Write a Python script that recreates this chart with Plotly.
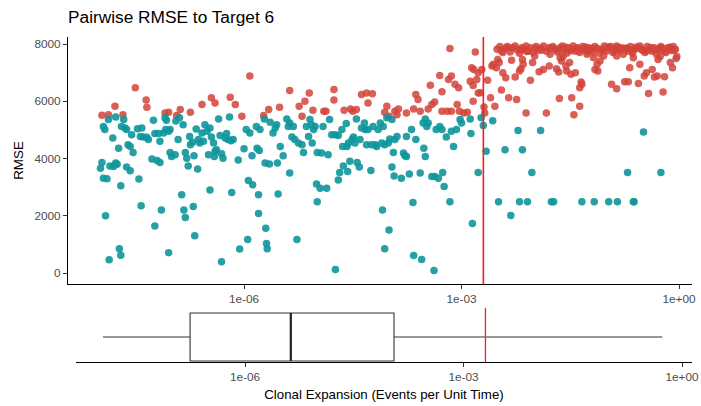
import numpy as np
import plotly.graph_objects as go

# Clonal expansion rates (log10 events per unit time) and pairwise RMSE, low-RMSE group
teal_log_rate = [
    -7.96, -7.98, -7.94, -7.89, -7.91, -7.86, -7.72, -7.70, -7.70, -7.73,
    -7.77, -7.80, -7.85, -7.75, -7.81, -7.94, -7.92, -7.87, -7.77, -7.66,
    -7.64, -7.62, -7.69, -7.60, -7.57, -7.55, -7.53, -7.62, -7.57, -7.45,
    -7.42, -7.47, -7.41, -7.43, -7.39, -7.34, -7.32, -7.25, -7.23, -7.27,
    -7.20, -7.16, -7.14, -7.23, -7.18, -7.16, -7.11, -7.08, -7.07, -7.04,
    -7.02, -7.09, -7.04, -7.02, -7.00, -6.95, -6.94, -6.91, -6.89, -6.84,
    -6.83, -6.81, -6.86, -6.81, -6.79, -6.77, -6.75, -6.74, -6.71, -6.70,
    -6.69, -6.68, -6.66, -6.64, -6.63, -6.61, -6.58, -6.56, -6.54, -6.51,
    -6.49, -6.47, -6.47, -6.45, -6.42, -6.41, -6.40, -6.35, -6.38, -6.33,
    -6.31, -6.31, -6.29, -6.26, -6.24, -6.22, -6.20, -6.18, -6.17, -6.15,
    -6.08, -6.06, -6.00, -5.97, -5.95, -5.94, -5.92, -5.89, -5.88, -5.83,
    -5.82, -5.80, -5.80, -5.79, -5.78, -5.72, -5.71, -5.70, -5.69, -5.68,
    -5.65, -5.64, -5.60, -5.57, -5.55, -5.54, -5.53, -5.50,
    -5.46, -5.41, -5.39, -5.37, -5.34, -5.37, -5.32, -5.30, -5.27, -5.25,
    -5.20, -5.18, -5.14, -5.11, -5.09, -5.07, -5.04, -5.06, -5.02, -5.00,
    -4.99, -4.99, -4.95, -4.93, -4.91, -4.86, -4.84, -4.82, -4.79, -4.74,
    -4.74, -4.70, -4.70, -4.68, -4.65, -4.64, -4.63, -4.59, -4.58, -4.57,
    -4.56, -4.54, -4.51, -4.49, -4.47, -4.45, -4.44, -4.41, -4.40, -4.38,
    -4.34, -4.33, -4.31, -4.29, -4.25, -4.24, -4.22, -4.19, -4.17, -4.15,
    -4.12, -4.10, -4.09, -4.08, -4.06, -4.06, -4.03, -4.01, -4.00, -3.99,
    -3.96, -3.96, -3.94, -3.93, -3.92, -3.89, -3.83, -3.80, -3.78, -3.76,
    -3.76, -3.72, -3.69, -3.67, -3.66, -3.63, -3.57, -3.55, -3.53, -3.50,
    -3.52, -3.50, -3.48, -3.46, -3.41, -3.38, -3.37, -3.35, -3.32, -3.30,
    -3.27, -3.26, -3.24, -3.21, -3.16, -3.14, -3.11, -3.07, -3.02, -3.00,
    -2.88, -2.87, -2.85, -2.77,
    -2.73, -2.70, -2.66, -2.57, -2.49, -2.40, -2.32, -2.22, -2.20, -2.16,
    -2.09, -2.03, -1.91, -1.76, -1.73, -1.34, -1.17, -0.97, -0.85, -0.71,
    -0.63, -0.62, -0.49, -0.25,
]
teal_rmse = [
    3860, 3660, 3310, 3290, 2000, 460, 850, 620, 3050, 4360,
    3840, 3720, 3740, 3800, 4720, 5120, 5010, 5360, 5450, 5360,
    5070, 5010, 5120, 4480, 4420, 4830, 4210, 3700, 3570, 3280,
    2350, 5040, 5070, 4770, 4750, 4740, 4660, 5340, 4870, 3980,
    3930, 3860, 2200, 1640, 4870, 4600, 4890, 5010, 5340, 4950,
    5010, 5420, 710, 4210, 4070, 4130, 5310, 4660, 5420, 5180,
    2200, 1940, 2730, 4210, 4010, 3740, 4770, 4480, 4570, 2320,
    4100, 1300, 5030, 3630, 4660, 4540, 4890, 4600, 5180, 4950,
    4130, 5070, 2900, 4750, 4540, 4070, 4250, 5380, 4310, 4800,
    4170, 390, 4010, 4720, 4870, 4660, 5450, 4620, 2810, 4660,
    3950, 840, 4340, 5010, 1170, 3230, 4890, 4100, 3080, 5120,
    4360, 2730, 2080, 4280, 5010, 5380, 3840, 1560, 1030, 850,
    3810, 5270, 4890, 5070, 5180, 3840, 2760, 4420,
    4100, 5380, 5120, 5240, 4750, 3490, 5120, 4660, 1170, 4540,
    4480, 4210, 5120, 4770, 5360, 5180, 5010, 4540, 5120, 3110,
    2490, 4210, 2960, 4190, 5120, 2960, 4130, 5360, 4830, 4830,
    120, 4800, 3250, 3510, 5010, 4420, 3740, 5220, 4420, 3550,
    4540, 3900, 4660, 4750, 4540, 5380, 3860, 3700, 4660, 5070,
    5240, 5010, 4480, 5010, 3580, 4480, 5120, 4480, 4420, 5010,
    5240, 4540, 2200, 5120, 4480, 850, 5420, 4540, 1500, 4680,
    5360, 3700, 4210, 3390, 4660, 4770, 3310, 4190, 4100, 4070,
    4770, 3460, 5010, 2460, 610, 4660, 3490, 470, 5240, 5380,
    4360, 4070, 5120, 5240, 3370, 90, 3370, 5010, 3310, 5120,
    5010, 3510, 3020, 4750, 2490, 4950, 4420, 5010, 5360, 5240,
    5380, 4870, 1730, 3510,
    5420, 5150, 4250, 5320, 2490, 4310, 2010, 4980, 2490, 4310,
    2490, 3510, 4980, 2490, 2490, 2490, 2490, 2490, 2490, 3510,
    2490, 2490, 4930, 3510,
]

# High-RMSE group
red_log_rate = [
    -7.96, -7.87, -7.78, -7.67, -7.50, -7.35, -7.34, -7.09, -7.04, -6.93,
    -6.88, -6.74, -6.58, -6.45, -6.40, -6.19, -6.12, -6.03, -5.92, -5.73,
    -5.66, -5.51,
    -5.37, -5.24, -5.20, -5.16, -5.10, -5.05, -4.90, -4.87, -4.76, -4.76,
    -4.62, -4.53, -4.50, -4.45, -4.38, -4.31, -4.29, -4.23, -4.06, -4.03,
    -4.00, -3.92, -3.87, -3.89, -3.76, -3.66, -3.63, -3.60, -3.57, -3.46,
    -3.43, -3.41, -3.37, -3.27, -3.27, -3.30, -3.20, -3.18, -3.14, -3.14,
    -3.09, -3.06, -3.04, -3.03, -2.97, -2.92, -2.88, -2.84, -2.84, -2.79,
    -2.86, -2.83, -2.81, -3.16, -2.77, -2.77,
    -2.72, -2.74, -2.69, -2.68, -2.64, -2.60, -2.58, -2.56, -2.54, -2.52,
    -2.50, -2.48, -2.45, -2.43, -2.39, -2.35, -2.31, -2.26, -2.24, -2.20,
    -2.18, -2.15, -2.16, -2.11, -2.05, -2.02, -1.93, -1.87, -1.83, -1.79,
    -1.69, -1.66, -1.65, -1.62, -1.56, -1.55, -1.51, -1.49, -1.48, -1.45,
    -1.43, -1.37, -1.37, -1.35, -1.34, -1.16, -1.13, -1.12, -1.09, -0.93,
    -0.86, -0.75, -0.70, -0.68, -0.56, -0.54, -0.48, -0.45, -0.42, -0.37,
    -0.34, -0.30, -0.29, -0.22, -0.20, -0.09, -0.04,
    -2.51, -2.47, -2.43, -2.40, -2.37, -2.33, -2.29, -2.26, -2.23, -2.20,
    -2.17, -2.14, -2.11, -2.08, -2.05, -2.01, -1.97, -1.94, -1.91, -1.87,
    -1.83, -1.80, -1.78, -1.74, -1.71, -1.68, -1.64, -1.61, -1.59, -1.55,
    -1.52, -1.49, -1.46, -1.43, -1.40, -1.37, -1.33, -1.30, -1.27, -1.25,
    -1.22, -1.19, -1.16, -1.13, -1.10, -1.07, -1.03, -1.00, -0.96, -0.94,
    -0.91, -0.88, -0.86, -0.82, -0.79, -0.77, -0.74, -0.70, -0.67, -0.64,
    -0.61, -0.57, -0.54, -0.50, -0.47, -0.44, -0.41, -0.37, -0.34, -0.31,
    -0.28, -0.25, -0.22, -0.18, -0.15, -0.11, -0.08, -0.05, -0.03,
    -2.45, -2.35, -2.18, -2.10, -1.99, -1.90, -1.76, -1.66, -1.57, -1.50,
    -1.41, -1.35, -1.29, -1.26, -1.23, -1.20, -1.05, -0.98, -0.90, -0.84,
    -0.80, -0.72, -0.65, -0.59, -0.52, -0.45, -0.39, -0.33, -0.26, -0.20,
    -0.13, -0.07,
    -1.99, -1.64, -1.60, -1.18, -1.04, -0.86, -0.63, -0.26, -0.12,
]
red_rmse = [
    5510, 5530, 5830, 5530, 6470, 6040, 5790, 5590, 5620, 5500,
    5710, 5620, 5890, 6120, 5940, 6140, 5890, 5480, 6880, 5500,
    5710, 5790,
    6380, 5830, 5480, 6000, 6290, 5690, 5650, 5650, 6410, 6040,
    5690, 5730, 5650, 5710, 6240, 6290, 5940, 6260, 5620, 5830,
    5480, 5650, 5730, 5530, 5590, 5730, 6240, 6060, 5650, 5730,
    6560, 5890, 5970, 5650, 6330, 6900, 5650, 6760, 6880, 5650,
    6590, 5890, 6470, 5650, 5590, 5620, 6700, 6550, 6000, 6760,
    7170, 7110, 7720, 7840, 7000, 6290,
    7110, 6300, 5800, 5590, 6730, 6120, 7230, 7290, 5830, 7170,
    7460, 7350, 6390, 7000, 6820, 6120, 7430, 6850, 6060, 7060,
    7140, 7290, 7460, 5590, 6730, 7350, 7030, 7110, 5590, 7230,
    7140, 7020, 6100, 7410, 7230, 7060, 7350, 6940, 6120, 5530,
    7000, 5830, 6470, 6670, 6590, 7110, 7290, 7060, 7410, 6590,
    6440, 6680, 6680, 7170, 6620, 7290, 6880, 7000, 6270, 7110,
    6850, 6880, 7460, 6320, 6860, 7170, 7490,
    7820, 7910, 7700, 7840, 7910, 7720, 7870, 7930, 7790, 7680,
    7870, 7820, 7930, 7750, 7870, 7700, 7910, 7790, 7840, 7930,
    7750, 7870, 7640, 7910, 7820, 7720, 7870, 7930, 7790, 7680,
    7870, 7820, 7930, 7750, 7870, 7700, 7910, 7820, 7640, 7870,
    7790, 7720, 7910, 7840, 7680, 7820, 7930, 7750, 7870, 7910,
    7700, 7820, 7930, 7770, 7870, 7640, 7840, 7750, 7910, 7680,
    7820, 7870, 7930, 7770, 7700, 7910, 7820, 7750, 7870, 7640,
    7790, 7910, 7840, 7700, 7870, 7770, 7910, 7820, 7560,
    7760, 7880, 7800, 7740, 7850, 7780, 7860, 7780, 7900, 7760,
    7830, 7780, 7900, 7720, 7780, 7850, 7800, 7900, 7760, 7880,
    7800, 7860, 7790, 7900, 7820, 7760, 7880, 7800, 7860, 7740,
    7890, 7780,
    7580, 7520, 7560, 7520, 7580, 7580, 7520, 7560, 7350,
]

# Summary of the clonal expansion distribution
rate_lowerfence = [1.12e-8]
rate_q1 = [1.76e-7]
rate_median = [4.25e-6]
rate_q3 = [1.11e-4]
rate_upperfence = [0.535]

# Reference rate marked in both panels
threshold_rate = 2.0e-3

x_tick_vals = [1e-6, 1e-3, 1.0]
x_tick_text = ["1e-06", "1e-03", "1e+00"]
y_tick_vals = [0, 2000, 4000, 6000, 8000]

for a, b in [(teal_log_rate, teal_rmse), (red_log_rate, red_rmse)]:
    if len(a) != len(b):
        raise ValueError("length mismatch")

RED = "#D2433A"
TEAL = "#0E969B"
LINE_RED = "#FF1A1A"
FONT = "Liberation Sans, Arial, Helvetica, sans-serif"
Y_RANGE = [-384, 8245]
Y2_RANGE = [-0.5, 0.58]

fig = go.Figure()

fig.add_trace(go.Scatter(
    x=np.power(10.0, red_log_rate), y=red_rmse, mode="markers",
    marker=dict(color=RED, size=7.5, opacity=0.85, line=dict(width=0)),
    xaxis="x", yaxis="y", hoverinfo="skip", showlegend=False,
))
fig.add_trace(go.Scatter(
    x=np.power(10.0, teal_log_rate), y=teal_rmse, mode="markers",
    marker=dict(color=TEAL, size=7.5, opacity=0.9, line=dict(width=0)),
    xaxis="x", yaxis="y", hoverinfo="skip", showlegend=False,
))
fig.add_trace(go.Scatter(
    x=[threshold_rate, threshold_rate], y=Y_RANGE, mode="lines",
    line=dict(color=LINE_RED, width=1.6),
    xaxis="x", yaxis="y", hoverinfo="skip", showlegend=False,
))

# Box plot of the rates
fig.add_trace(go.Box(
    y=[0], lowerfence=rate_lowerfence, q1=rate_q1, median=rate_median,
    q3=rate_q3, upperfence=rate_upperfence, orientation="h",
    fillcolor="white", line=dict(color="#333333", width=1.1),
    whiskerwidth=0, width=0.96, boxpoints=False,
    xaxis="x2", yaxis="y2", hoverinfo="skip", showlegend=False,
))
fig.add_trace(go.Scatter(
    x=[rate_median[0], rate_median[0]], y=[-0.48, 0.48], mode="lines",
    line=dict(color="#222222", width=2.2),
    xaxis="x2", yaxis="y2", hoverinfo="skip", showlegend=False,
))
fig.add_trace(go.Scatter(
    x=[threshold_rate, threshold_rate], y=Y2_RANGE, mode="lines",
    line=dict(color=LINE_RED, width=1.3),
    xaxis="x2", yaxis="y2", hoverinfo="skip", showlegend=False,
))

axis_style = dict(
    showline=True, linecolor="black", linewidth=1, ticks="outside",
    ticklen=4, tickwidth=1, tickcolor="#333333", showgrid=False,
    zeroline=False, automargin=False,
    tickfont=dict(family=FONT, size=11.8, color="#4D4D4D"),
)

fig.update_layout(
    width=701, height=406,
    margin=dict(l=68, r=9, t=37, b=44, autoexpand=False),
    paper_bgcolor="white", plot_bgcolor="white",
    font=dict(family=FONT, color="black"),
    title=dict(
        text="Pairwise RMSE to Target 6", x=0, xref="paper", xanchor="left",
        y=1 - 17 / 406, yref="container", yanchor="middle",
        font=dict(family=FONT, size=17.3, color="black"),
    ),
    xaxis=dict(
        type="log", range=[-8.428, 0.179], domain=[0, 1], anchor="y",
        tickvals=x_tick_vals, ticktext=x_tick_text, **axis_style,
    ),
    yaxis=dict(
        range=Y_RANGE, domain=[0.24, 1], anchor="x",
        tickvals=y_tick_vals,
        title=dict(text="RMSE", font=dict(family=FONT, size=13.4, color="black"), standoff=7),
        **axis_style,
    ),
    xaxis2=dict(
        type="log", range=[-8.321, 0.137], domain=[0.0128, 1], anchor="y2",
        tickvals=x_tick_vals, ticktext=x_tick_text,
        title=dict(text="Clonal Expansion (Events per Unit Time)",
                   font=dict(family=FONT, size=13.3, color="black"), standoff=6),
        **axis_style,
    ),
    yaxis2=dict(range=Y2_RANGE, domain=[0, 0.166], anchor="x2", visible=False),
)

fig.write_html("out.html")
